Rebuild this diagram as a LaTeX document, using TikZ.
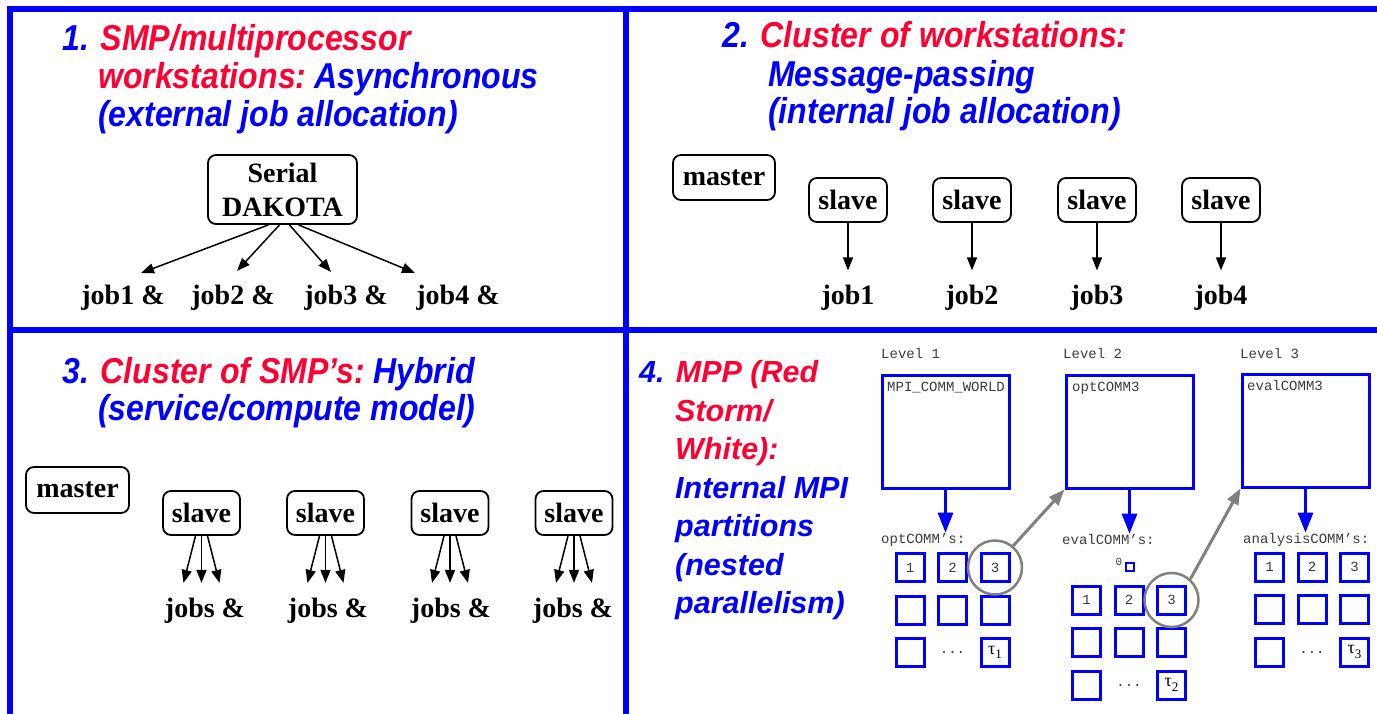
\documentclass[tikz,border=0pt]{standalone}
\usepackage{fontspec}
\setmainfont{Liberation Serif}
\newfontfamily\headfont[FakeStretch=0.89]{Liberation Sans}
\newfontfamily\mppfont{Liberation Sans}
\newfontfamily\codefont{Liberation Mono}
\usetikzlibrary{arrows.meta,calc}
\definecolor{qblue}{RGB}{0,0,255}
\definecolor{qred}{RGB}{255,0,51}
\definecolor{cgray}{RGB}{128,128,128}
\definecolor{codegray}{RGB}{60,60,60}

\begin{document}
\begin{tikzpicture}[x=1pt,y=-1pt,
  frame/.style={line width=6pt,draw=qblue},
  head/.style={anchor=base west,inner sep=0pt,font=\headfont\bfseries\itshape\fontsize{36}{38}\selectfont},
  mpp/.style={anchor=base west,inner sep=0pt,font=\mppfont\bfseries\itshape\fontsize{30.5}{38}\selectfont},
  proc/.style={draw,line width=1.8pt,rounded corners=8pt,inner sep=0pt,align=center,
    font=\bfseries\fontsize{28}{34}\selectfont},
  job/.style={anchor=base,inner sep=0pt,font=\bfseries\fontsize{28}{34}\selectfont},
  arr/.style={line width=1.5pt,-{Triangle[length=13pt,width=10pt]}},
  code/.style={inner sep=0pt,text=codegray,font=\codefont\fontsize{14}{16}\selectfont},
  commbox/.style={draw=qblue,line width=3pt,minimum width=127pt,minimum height=113pt,inner sep=0pt},
  cell/.style={draw=qblue,line width=3pt,minimum size=28pt,inner sep=0pt},
  celltext/.style={inner sep=0pt,text=codegray,font=\codefont\fontsize{14}{16}\selectfont},
  down/.style={line width=3pt,draw=qblue,-{Triangle[length=20pt,width=15pt]}},
  ring/.style={circle,draw=cgray,line width=2.5pt,minimum size=54pt,inner sep=0pt},
  link/.style={line width=3pt,draw=cgray,-{Triangle[length=16pt,width=12pt]}}
]
\useasboundingbox (0,0) rectangle (1377,714);

% quadrant frame
\draw[frame] (10,714) -- (10,9) -- (1377,9);
\draw[frame] (7,329.5) -- (1377,329.5);
\draw[frame] (626,9) -- (626,714);

% ---------- 1. SMP / multiprocessor workstations ----------
\node[head] (h1a) at (62,51) {\color{qblue}1. \color{qred}SMP/multiprocessor};
\node[head] (h1b) at (98,89) {\color{qred}workstations:\hspace{0.22em}\color{qblue}Asynchronous};
\node[head] (h1c) at (98,127) {\color{qblue}(external job allocation)};

\node[proc,minimum width=149pt,minimum height=69pt] (dak) at (282.5,189.5) {Serial\\DAKOTA};
\node[job] (j1a) at (123,305) {job1 \&};
\node[job] (j1b) at (233,305) {job2 \&};
\node[job] (j1c) at (346,305) {job3 \&};
\node[job] (j1d) at (458,305) {job4 \&};
\coordinate (t1a) at (141,273);
\coordinate (t1b) at (237,271);
\coordinate (t1c) at (331,272);
\coordinate (t1d) at (415,273);
\draw[arr] ($(dak.south)+(-14,0)$) -- (t1a);
\draw[arr] ($(dak.south)+(-3,0)$) -- (t1b);
\draw[arr] ($(dak.south)+(7,0)$) -- (t1c);
\draw[arr] ($(dak.south)+(16,0)$) -- (t1d);

% ---------- 2. Cluster of workstations ----------
\node[head] (h2a) at (722,48) {\color{qblue}2. \color{qred}Cluster of workstations:};
\node[head] (h2b) at (768,87) {\color{qblue}Message-passing};
\node[head] (h2c) at (768,124) {\color{qblue}(internal job allocation)};

\node[proc,minimum width=102pt,minimum height=45pt] (m2) at (724,177.5) {master};
\foreach \i/\x in {1/848,2/972,3/1097,4/1221}{
  \node[proc,minimum width=78pt,minimum height=44pt] (s2-\i) at (\x,200) {slave};
  \node[job] (j2-\i) at (\x,305) {job\i};
  \draw[arr,shorten >=15pt] (s2-\i.south) -- (s2-\i.south |- j2-\i.north);
}

% ---------- 3. Cluster of SMPs ----------
\node[head] (h3a) at (62,383) {\color{qblue}3. \color{qred}Cluster of SMP’s:\hspace{0.22em}\color{qblue}Hybrid};
\node[head] (h3b) at (98,420) {\color{qblue}(service/compute model)};

\node[proc,minimum width=103pt,minimum height=46pt] (m3) at (77.5,490) {master};
\foreach \i/\x/\jx in {1/201.5/205,2/325.5/328,3/450/451,4/574/573}{
  \node[proc,minimum width=77pt,minimum height=44pt] (s3-\i) at (\x,513) {slave};
  \node[job] (j3-\i) at (\jx,617) {jobs \&};
  \draw[arr] ($(s3-\i.south)+(-6,0)$) -- ($(s3-\i.south)+(-18,47)$);
  \draw[arr] (s3-\i.south) -- ($(s3-\i.south)+(0,47)$);
  \draw[arr] ($(s3-\i.south)+(6,0)$) -- ($(s3-\i.south)+(18,47)$);
}

% ---------- 4. MPP ----------
\node[mpp] (h4a) at (639,382) {\color{qblue}4. \color{qred}MPP (Red};
\node[mpp] (h4b) at (675,421) {\color{qred}Storm/};
\node[mpp] (h4c) at (675,459) {\color{qred}White):};
\node[mpp] (h4d) at (675,498) {\color{qblue}Internal MPI};
\node[mpp] (h4e) at (675,536) {\color{qblue}partitions};
\node[mpp] (h4f) at (675,575) {\color{qblue}(nested};
\node[mpp] (h4g) at (675,613) {\color{qblue}parallelism)};

% communicator levels
\node[code,anchor=base west] (lv1) at (881,358) {Level 1};
\node[code,anchor=base west] (lv2) at (1063,358) {Level 2};
\node[code,anchor=base west] (lv3) at (1240,358) {Level 3};

\node[commbox] (b1) at (945.5,431.5) {};
\node[commbox] (b2) at (1129.5,431.5) {};
\node[commbox] (b3) at (1305.5,430.5) {};
\node[code,anchor=base west] (b1t) at (887,391) {MPI\_COMM\_WORLD};
\node[code,anchor=base west] (b2t) at (1072,391) {optCOMM3};
\node[code,anchor=base west] (b3t) at (1247,390) {evalCOMM3};

\node[code,anchor=base west] (c1) at (881,543) {optCOMM’s:};
\node[code,anchor=base west] (c2) at (1062,544) {evalCOMM’s:};
\node[code,anchor=base west] (c3) at (1243,543) {analysisCOMM’s:};

\draw[down] (b1.south) -- (b1.south |- c1.north);
\draw[down] (b2.south) -- (b2.south |- c2.north);
\draw[down] (b3.south) -- (b3.south |- c3.north);

% processor grids
\foreach \g/\gx/\gy in {1/910/567.5,2/1086.5/600,3/1269.5/567}{
  \foreach \r in {1,2,3}{
    \foreach \c in {1,2,3}{
      \pgfmathtruncatemacro\gap{(\r==3)&&(\c==2)}
      \ifnum\gap=0
        \node[cell] (g\g-\r-\c) at ({\gx+(\c-1)*42.5},{\gy+(\r-1)*42.5}) {};
      \else
        \node[celltext] (g\g-dots) at ({\gx+(\c-1)*42.5},{\gy+(\r-1)*42.5}) {...};
      \fi
    }
  }
  \foreach \c in {1,2,3}{
    \node[celltext] (n\g-\c) at (g\g-1-\c) {\c};
  }
  \node[celltext,text=black,font=\fontsize{18}{18}\selectfont] (tau\g) at (g\g-3-3)
    {τ\raisebox{-0.25em}{\fontsize{13}{13}\selectfont\g}};
}

% idle rank
\node[draw=qblue,line width=2pt,minimum size=8pt,inner sep=0pt] (z0) at (1130,567) {};
\node[celltext,font=\codefont\fontsize{11}{12}\selectfont] (z0t) at (1119,562) {0};

% selected partitions feeding the next level
\node[ring] (r1) at (g1-1-3) {};
\node[ring] (r2) at (g2-1-3) {};
\draw[link] (r1.50) -- (b2.south west);
\draw[link] (r2.48) -- (b3.south west);

\end{tikzpicture}
\end{document}
